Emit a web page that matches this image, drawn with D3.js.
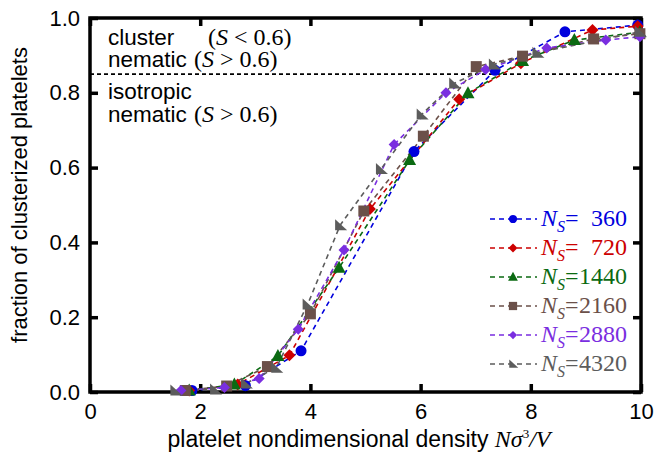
<!DOCTYPE html>
<html>
<head>
<meta charset="utf-8">
<script src="https://cdn.jsdelivr.net/npm/d3@7"></script>
<style>
body{margin:0;background:#fff}
.sans{font-family:"Liberation Sans",Arial,sans-serif}
.serif{font-family:"Liberation Serif","Times New Roman",serif}
</style>
</head>
<body>
<script>
// tailles des systemes
var sizes=[360,720,1440,2160,2880,4320];
var colors=["#0000dd","#cc0000","#0b6a12","#6b5049","#7a2ee0","#5c5c5c"];
var shapes=["circle","diamond","triangle","square","diamond2","corner"];

// densite N sigma^3/V et fraction clusterisee
var x360=[1.85,2.82,3.83,5.88,7.35,8.62,9.94];
var y360=[0.004,0.017,0.11,0.643,0.86,0.963,0.981];
var x720=[1.80,2.68,3.62,5.08,6.70,7.82,9.12,9.94];
var y720=[0.004,0.02,0.098,0.489,0.783,0.879,0.968,0.978];
var x1440=[1.80,2.62,3.41,4.52,5.80,6.86,7.85,8.79,9.98];
var y1440=[0.004,0.02,0.096,0.332,0.62,0.799,0.885,0.941,0.962];
var x2160=[1.73,2.48,3.22,4.00,4.97,6.05,7.01,7.85,9.14,9.98];
var y2160=[0.004,0.016,0.068,0.209,0.484,0.684,0.870,0.898,0.944,0.958];
var x2880=[1.65,2.44,3.07,3.78,4.61,5.52,6.46,7.18,8.29,9.36,9.98];
var y2880=[0.004,0.012,0.036,0.168,0.38,0.662,0.80,0.862,0.92,0.941,0.95];
var x4320=[1.55,2.27,2.83,3.38,3.95,4.54,5.28,6.02,6.61,7.33,8.12,9.98];
var y4320=[0.004,0.007,0.023,0.065,0.234,0.446,0.596,0.742,0.825,0.876,0.907,0.963];

var xTicks=[0,2,4,6,8,10];
var yTicks=[0,0.2,0.4,0.6,0.8,1.0];
var threshold=0.85;

var xs=[x360,x720,x1440,x2160,x2880,x4320];
var ys=[y360,y720,y1440,y2160,y2880,y4320];

var W=656,H=459;
var svg=d3.select("body").append("svg").attr("width",W).attr("height",H);

var x=d3.scaleLinear().domain([0,10]).range([90,641]);
var y=d3.scaleLinear().domain([0,1]).range([392,18]);

function shapePath(s,k){
    if(s=="circle") return d3.symbol().type(d3.symbolCircle).size(95*k*k)();
    if(s=="diamond") return "M0,"+(-6*k)+"L"+(6*k)+",0L0,"+(6*k)+"L"+(-6*k)+",0Z";
    if(s=="diamond2") return "M0,"+(-5.5*k)+"L"+(5.5*k)+",0L0,"+(5.5*k)+"L"+(-5.5*k)+",0Z";
    if(s=="triangle") return "M0,"+(-7*k)+"L"+(6.5*k)+","+(5*k)+"L"+(-6.5*k)+","+(5*k)+"Z";
    if(s=="square") return "M"+(-5.5*k)+","+(-5.5*k)+"h"+(11*k)+"v"+(11*k)+"h"+(-11*k)+"Z";
    return "M"+(-5*k)+","+(-6*k)+"L"+(-5*k)+","+(5*k)+"L"+(7*k)+","+(5*k)+"Z";
}

// axes, ticks vers l'interieur
var fmtY=d3.format(".1f");
svg.append("g").attr("class","sans").attr("transform","translate(0,392)")
    .call(d3.axisBottom(x).tickValues(xTicks).tickFormat(d3.format("d")).tickSize(-8).tickPadding(11).tickSizeOuter(0));
svg.append("g").attr("transform","translate(0,18)")
    .call(d3.axisTop(x).tickValues(xTicks).tickFormat("").tickSize(-8).tickSizeOuter(0));
svg.append("g").attr("class","sans").attr("transform","translate(90,0)")
    .call(d3.axisLeft(y).tickValues(yTicks).tickFormat(fmtY).tickSize(-8).tickPadding(10).tickSizeOuter(0));
svg.append("g").attr("transform","translate(641,0)")
    .call(d3.axisRight(y).tickValues(yTicks).tickFormat("").tickSize(-8).tickSizeOuter(0));
svg.selectAll(".domain").remove();
svg.selectAll(".tick line").attr("stroke","#000").attr("stroke-width",3.5);
svg.selectAll(".tick text").attr("fill","#000").style("font-size","22px").style("font-family","'Liberation Sans',Arial,sans-serif");

svg.append("rect").attr("x",x(0)).attr("y",y(1)).attr("width",x(10)-x(0)).attr("height",y(0)-y(1))
    .attr("fill","none").attr("stroke","#000").attr("stroke-width",3.5);

// ligne de seuil
svg.append("line").attr("x1",x(0)).attr("x2",x(10)).attr("y1",y(threshold)).attr("y2",y(threshold))
    .attr("stroke","#000").attr("stroke-width",1.6).attr("stroke-dasharray","4,3");

// courbes
var line=d3.line().x(function(d){return x(d[0])}).y(function(d){return y(d[1])});
for(var i=0;i<sizes.length;i++){
    var pts=d3.zip(xs[i],ys[i]);
    svg.append("path").datum(pts).attr("d",line).attr("fill","none")
        .attr("stroke",colors[i]).attr("stroke-width",1.6).attr("stroke-dasharray","5,4");
}
for(var i=0;i<sizes.length;i++){
    var pts=d3.zip(xs[i],ys[i]);
    svg.append("g").selectAll("path").data(pts).enter().append("path")
        .attr("transform",function(d){return "translate("+x(d[0])+","+y(d[1])+")"})
        .attr("d",shapePath(shapes[i],1)).attr("fill",colors[i]);
}

// legende
var leg=svg.append("g");
for(var i=0;i<sizes.length;i++){
    var ly=219+i*29;
    var g=leg.append("g").attr("transform","translate(0,"+ly+")");
    g.append("line").attr("x1",490).attr("x2",537).attr("y1",0).attr("y2",0)
        .attr("stroke",colors[i]).attr("stroke-width",1.6).attr("stroke-dasharray","5,4");
    g.append("path").attr("transform","translate(513,0)").attr("d",shapePath(shapes[i],0.75)).attr("fill",colors[i]);
    var t=g.append("text").attr("class","serif").attr("x",541).attr("y",7).attr("fill",colors[i]).style("font-size","24px");
    t.append("tspan").style("font-style","italic").text("N");
    t.append("tspan").style("font-style","italic").style("font-size","16px").attr("dy",6).text("S");
    t.append("tspan").attr("dy",-6).text("=");
    g.append("text").attr("class","serif").attr("x",627).attr("y",7).attr("text-anchor","end")
        .attr("fill",colors[i]).style("font-size","24px").text(sizes[i]);
}

// annotations
function mathS(t,op){
    t.append("tspan").text("(");
    t.append("tspan").style("font-style","italic").text("S");
    t.append("tspan").text(" "+op+" 0.6)");
}
svg.append("text").attr("class","sans").attr("x",108).attr("y",45).style("font-size","22.5px").text("cluster");
var a1b=svg.append("text").attr("class","serif").attr("x",208).attr("y",45).style("font-size","24px");
mathS(a1b,"<");
svg.append("text").attr("class","sans").attr("x",108).attr("y",67).style("font-size","22.5px").text("nematic");
var a2b=svg.append("text").attr("class","serif").attr("x",194).attr("y",67).style("font-size","24px");
mathS(a2b,">");
svg.append("text").attr("class","sans").attr("x",108).attr("y",99).style("font-size","22.5px").text("isotropic");
svg.append("text").attr("class","sans").attr("x",108).attr("y",122).style("font-size","22.5px").text("nematic");
var a4b=svg.append("text").attr("class","serif").attr("x",194).attr("y",122).style("font-size","24px");
mathS(a4b,">");

// titres des axes
var xt=svg.append("text").attr("class","sans").attr("x",359).attr("y",447).attr("text-anchor","middle").style("font-size","23px");
xt.append("tspan").text("platelet nondimensional density ");
xt.append("tspan").attr("class","serif").style("font-style","italic").style("font-size","24px").text("Nσ");
xt.append("tspan").attr("class","serif").style("font-size","13px").attr("dy",-9).text("3");
xt.append("tspan").attr("class","serif").style("font-style","italic").style("font-size","24px").attr("dy",9).text("/V");

svg.append("text").attr("class","sans").attr("transform","translate(27,195) rotate(-90)")
    .attr("text-anchor","middle").style("font-size","22px").text("fraction of clusterized platelets");
</script>
</body>
</html>
